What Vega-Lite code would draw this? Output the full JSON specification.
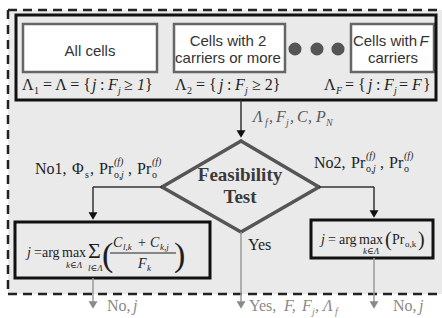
{
  "$schema": "https://vega.github.io/schema/vega-lite/v6.json",
  "width": 442,
  "height": 318,
  "padding": 0,
  "autosize": {"type": "none"},
  "background": "white",
  "config": {"view": {"stroke": null}},
  "datasets": {
    "panels": [
      {"kind": "bg", "x": 8, "x2": 442, "y": 10, "y2": 294},
      {"kind": "frame", "x": 16, "x2": 436, "y": 15, "y2": 100},
      {"kind": "cell", "x": 23, "x2": 157, "y": 24, "y2": 72},
      {"kind": "cell", "x": 174, "x2": 285, "y": 24, "y2": 72},
      {"kind": "cell", "x": 351, "x2": 434, "y": 24, "y2": 72},
      {"kind": "frame", "x": 15, "x2": 210, "y": 222, "y2": 278},
      {"kind": "frame", "x": 311, "x2": 433, "y": 220, "y2": 258}
    ],
    "lines": [
      {"kind": "border", "x": 8, "y": 10, "x2": 442, "y2": 10},
      {"kind": "border", "x": 8, "y": 10, "x2": 8, "y2": 294},
      {"kind": "border", "x": 8, "y": 294, "x2": 442, "y2": 294},
      {"kind": "diamond", "x": 162, "y": 187, "x2": 241, "y2": 141},
      {"kind": "diamond", "x": 241, "y": 141, "x2": 319, "y2": 187},
      {"kind": "diamond", "x": 319, "y": 187, "x2": 241, "y2": 232},
      {"kind": "diamond", "x": 241, "y": 232, "x2": 162, "y2": 187},
      {"kind": "flow", "x": 241, "y": 100, "x2": 241, "y2": 132},
      {"kind": "flow", "x": 162, "y": 187, "x2": 93, "y2": 187},
      {"kind": "flow", "x": 93, "y": 187, "x2": 93, "y2": 214},
      {"kind": "flow", "x": 319, "y": 187, "x2": 374, "y2": 187},
      {"kind": "flow", "x": 374, "y": 187, "x2": 374, "y2": 212},
      {"kind": "out", "x": 93, "y": 278, "x2": 93, "y2": 302},
      {"kind": "out", "x": 241, "y": 232, "x2": 241, "y2": 302},
      {"kind": "out", "x": 374, "y": 258, "x2": 374, "y2": 302},
      {"kind": "frac", "x": 110, "y": 253, "x2": 176, "y2": 253}
    ],
    "heads": [
      {"kind": "flow", "x": 241, "y": 134},
      {"kind": "flow", "x": 93, "y": 216},
      {"kind": "flow", "x": 374, "y": 214},
      {"kind": "out", "x": 93, "y": 305},
      {"kind": "out", "x": 241, "y": 305},
      {"kind": "out", "x": 374, "y": 305}
    ],
    "dots": [
      {"x": 295, "y": 49},
      {"x": 317, "y": 49},
      {"x": 338, "y": 49}
    ],
    "labels": [
      {"t": "All cells", "x": 90, "y": 56, "face": "cell", "role": "cell", "grp": "main"},
      {"t": "Cells with 2", "x": 228, "y": 46, "face": "cell", "role": "cell", "grp": "main"},
      {"t": "carriers or more", "x": 228, "y": 63, "face": "cell", "role": "cell", "grp": "main"},
      {"t": "Cells with", "x": 385, "y": 46, "face": "cell", "role": "cell", "grp": "main"},
      {"t": "F", "x": 424, "y": 46, "face": "cellvar", "role": "cell", "grp": "main"},
      {"t": "carriers", "x": 393, "y": 63, "face": "cell", "role": "cell", "grp": "main"},

      {"t": "Λ", "x": 22, "y": 90, "face": "op", "role": "main", "grp": "main"},
      {"t": "1", "x": 34, "y": 94, "face": "op", "role": "idx", "grp": "main"},
      {"t": "= Λ = {", "x": 43, "y": 90, "face": "op", "role": "main", "grp": "main"},
      {"t": "j", "x": 92, "y": 90, "face": "var", "role": "main", "grp": "main"},
      {"t": ":", "x": 100, "y": 90, "face": "op", "role": "main", "grp": "main"},
      {"t": "F", "x": 108, "y": 90, "face": "var", "role": "main", "grp": "main"},
      {"t": "j", "x": 118, "y": 94, "face": "var", "role": "idx", "grp": "main"},
      {"t": "≥", "x": 124, "y": 90, "face": "op", "role": "main", "grp": "main"},
      {"t": "1", "x": 137, "y": 90, "face": "var", "role": "main", "grp": "main"},
      {"t": "}", "x": 145, "y": 90, "face": "op", "role": "main", "grp": "main"},

      {"t": "Λ", "x": 175, "y": 90, "face": "op", "role": "main", "grp": "main"},
      {"t": "2", "x": 187, "y": 94, "face": "op", "role": "idx", "grp": "main"},
      {"t": "= {", "x": 196, "y": 90, "face": "op", "role": "main", "grp": "main"},
      {"t": "j", "x": 219, "y": 90, "face": "var", "role": "main", "grp": "main"},
      {"t": ":", "x": 227, "y": 90, "face": "op", "role": "main", "grp": "main"},
      {"t": "F", "x": 235, "y": 90, "face": "var", "role": "main", "grp": "main"},
      {"t": "j", "x": 245, "y": 94, "face": "var", "role": "idx", "grp": "main"},
      {"t": "≥ 2}", "x": 252, "y": 90, "face": "op", "role": "main", "grp": "main"},

      {"t": "Λ", "x": 324, "y": 90, "face": "op", "role": "main", "grp": "main"},
      {"t": "F", "x": 336, "y": 94, "face": "var", "role": "idx", "grp": "main"},
      {"t": "= {", "x": 345, "y": 90, "face": "op", "role": "main", "grp": "main"},
      {"t": "j", "x": 368, "y": 90, "face": "var", "role": "main", "grp": "main"},
      {"t": ":", "x": 376, "y": 90, "face": "op", "role": "main", "grp": "main"},
      {"t": "F", "x": 384, "y": 90, "face": "var", "role": "main", "grp": "main"},
      {"t": "j", "x": 394, "y": 94, "face": "var", "role": "idx", "grp": "main"},
      {"t": "=", "x": 399, "y": 90, "face": "op", "role": "main", "grp": "main"},
      {"t": "F", "x": 412, "y": 90, "face": "var", "role": "main", "grp": "main"},
      {"t": "}", "x": 423, "y": 90, "face": "op", "role": "main", "grp": "main"},

      {"t": "Λ", "x": 253, "y": 122, "face": "var", "role": "main", "grp": "flow"},
      {"t": "f", "x": 265, "y": 126, "face": "var", "role": "idx", "grp": "flow"},
      {"t": ",", "x": 269, "y": 122, "face": "var", "role": "main", "grp": "flow"},
      {"t": "F", "x": 276, "y": 122, "face": "var", "role": "main", "grp": "flow"},
      {"t": "j", "x": 286, "y": 126, "face": "var", "role": "idx", "grp": "flow"},
      {"t": ",", "x": 290, "y": 122, "face": "var", "role": "main", "grp": "flow"},
      {"t": "C", "x": 297, "y": 122, "face": "var", "role": "main", "grp": "flow"},
      {"t": ",", "x": 308, "y": 122, "face": "var", "role": "main", "grp": "flow"},
      {"t": "P", "x": 316, "y": 122, "face": "var", "role": "main", "grp": "flow"},
      {"t": "N", "x": 326, "y": 126, "face": "var", "role": "idx", "grp": "flow"},

      {"t": "No1,", "x": 35, "y": 174, "face": "op", "role": "main", "grp": "main"},
      {"t": "Φ", "x": 72, "y": 174, "face": "op", "role": "main", "grp": "main"},
      {"t": "s", "x": 85, "y": 178, "face": "op", "role": "idx", "grp": "main"},
      {"t": ",", "x": 90, "y": 174, "face": "op", "role": "main", "grp": "main"},
      {"t": "Pr", "x": 99, "y": 174, "face": "op", "role": "main", "grp": "main"},
      {"t": "(f)", "x": 114, "y": 165, "face": "var", "role": "idx", "grp": "main"},
      {"t": "o,", "x": 114, "y": 178, "face": "op", "role": "idx", "grp": "main"},
      {"t": "j", "x": 121, "y": 178, "face": "var", "role": "idx", "grp": "main"},
      {"t": ",", "x": 128, "y": 174, "face": "op", "role": "main", "grp": "main"},
      {"t": "Pr", "x": 137, "y": 174, "face": "op", "role": "main", "grp": "main"},
      {"t": "(f)", "x": 152, "y": 165, "face": "var", "role": "idx", "grp": "main"},
      {"t": "o", "x": 152, "y": 178, "face": "op", "role": "idx", "grp": "main"},

      {"t": "No2,", "x": 314, "y": 168, "face": "op", "role": "main", "grp": "main"},
      {"t": "Pr", "x": 351, "y": 168, "face": "op", "role": "main", "grp": "main"},
      {"t": "(f)", "x": 366, "y": 159, "face": "var", "role": "idx", "grp": "main"},
      {"t": "o,", "x": 366, "y": 172, "face": "op", "role": "idx", "grp": "main"},
      {"t": "j", "x": 373, "y": 172, "face": "var", "role": "idx", "grp": "main"},
      {"t": ",", "x": 380, "y": 168, "face": "op", "role": "main", "grp": "main"},
      {"t": "Pr", "x": 389, "y": 168, "face": "op", "role": "main", "grp": "main"},
      {"t": "(f)", "x": 404, "y": 159, "face": "var", "role": "idx", "grp": "main"},
      {"t": "o", "x": 404, "y": 172, "face": "op", "role": "idx", "grp": "main"},

      {"t": "Feasibility", "x": 240, "y": 181, "face": "head", "role": "head", "grp": "main"},
      {"t": "Test", "x": 240, "y": 203, "face": "head", "role": "head", "grp": "main"},
      {"t": "Yes", "x": 248, "y": 250, "face": "op", "role": "main", "grp": "main"},

      {"t": "j", "x": 27, "y": 257, "face": "var", "role": "fx", "grp": "main"},
      {"t": "=", "x": 34, "y": 257, "face": "op", "role": "fx", "grp": "main"},
      {"t": "arg", "x": 42, "y": 257, "face": "op", "role": "fx", "grp": "main"},
      {"t": "max", "x": 62, "y": 257, "face": "op", "role": "fx", "grp": "main"},
      {"t": "k∈Λ", "x": 66, "y": 268, "face": "var", "role": "fxidx", "grp": "main"},
      {"t": "Σ", "x": 88, "y": 258, "face": "op", "role": "sum", "grp": "main"},
      {"t": "l∈Λ", "x": 88, "y": 271, "face": "var", "role": "fxidx", "grp": "main"},
      {"t": "(", "x": 102, "y": 266, "face": "op", "role": "paren", "grp": "main"},
      {"t": "C", "x": 113, "y": 247, "face": "var", "role": "fx", "grp": "main"},
      {"t": "l,k", "x": 123, "y": 250, "face": "var", "role": "fxidx", "grp": "main"},
      {"t": "+", "x": 138, "y": 247, "face": "op", "role": "fx", "grp": "main"},
      {"t": "C", "x": 150, "y": 247, "face": "var", "role": "fx", "grp": "main"},
      {"t": "k,j", "x": 160, "y": 250, "face": "var", "role": "fxidx", "grp": "main"},
      {"t": "F", "x": 138, "y": 268, "face": "var", "role": "fx", "grp": "main"},
      {"t": "k", "x": 147, "y": 271, "face": "var", "role": "fxidx", "grp": "main"},
      {"t": ")", "x": 174, "y": 266, "face": "op", "role": "paren", "grp": "main"},

      {"t": "j", "x": 321, "y": 244, "face": "var", "role": "fx", "grp": "main"},
      {"t": "=", "x": 328, "y": 244, "face": "op", "role": "fx", "grp": "main"},
      {"t": "arg", "x": 339, "y": 244, "face": "op", "role": "fx", "grp": "main"},
      {"t": "max", "x": 359, "y": 244, "face": "op", "role": "fx", "grp": "main"},
      {"t": "k∈Λ", "x": 363, "y": 254, "face": "var", "role": "fxidx", "grp": "main"},
      {"t": "(", "x": 385, "y": 246, "face": "op", "role": "mparen", "grp": "main"},
      {"t": "Pr", "x": 392, "y": 244, "face": "op", "role": "fx", "grp": "main"},
      {"t": "o,k", "x": 405, "y": 247, "face": "op", "role": "fxidx", "grp": "main"},
      {"t": ")", "x": 418, "y": 246, "face": "op", "role": "mparen", "grp": "main"},

      {"t": "No,", "x": 107, "y": 311, "face": "op", "role": "main", "grp": "out"},
      {"t": "j", "x": 133, "y": 311, "face": "var", "role": "main", "grp": "out"},
      {"t": "Yes,", "x": 249, "y": 311, "face": "op", "role": "main", "grp": "out"},
      {"t": "F,", "x": 284, "y": 311, "face": "var", "role": "main", "grp": "out"},
      {"t": "F", "x": 302, "y": 311, "face": "var", "role": "main", "grp": "out"},
      {"t": "j", "x": 312, "y": 315, "face": "var", "role": "idx", "grp": "out"},
      {"t": ",", "x": 315, "y": 311, "face": "var", "role": "main", "grp": "out"},
      {"t": "Λ", "x": 323, "y": 311, "face": "var", "role": "main", "grp": "out"},
      {"t": "f", "x": 335, "y": 315, "face": "var", "role": "idx", "grp": "out"},
      {"t": "No,", "x": 393, "y": 311, "face": "op", "role": "main", "grp": "out"},
      {"t": "j", "x": 419, "y": 311, "face": "var", "role": "main", "grp": "out"}
    ]
  },
  "encoding": {
    "x": {"field": "x", "type": "quantitative", "scale": {"domain": [0, 442], "nice": false, "zero": false}, "axis": null},
    "y": {"field": "y", "type": "quantitative", "scale": {"domain": [0, 318], "nice": false, "zero": false, "reverse": true}, "axis": null}
  },
  "layer": [
    {"data": {"name": "panels"}, "transform": [{"filter": "datum.kind === 'bg'"}],
     "mark": {"type": "rect", "fill": "#eaeaea"},
     "encoding": {"x2": {"field": "x2"}, "y2": {"field": "y2"}}},
    {"data": {"name": "panels"}, "transform": [{"filter": "datum.kind === 'cell'"}],
     "mark": {"type": "rect", "fill": "white", "stroke": "#666666", "strokeWidth": 2.5},
     "encoding": {"x2": {"field": "x2"}, "y2": {"field": "y2"}}},
    {"data": {"name": "panels"}, "transform": [{"filter": "datum.kind === 'frame'"}],
     "mark": {"type": "rect", "filled": false, "stroke": "#111111", "strokeWidth": 3},
     "encoding": {"x2": {"field": "x2"}, "y2": {"field": "y2"}}},
    {"data": {"name": "lines"}, "transform": [{"filter": "datum.kind === 'border'"}],
     "mark": {"type": "rule", "stroke": "#222222", "strokeWidth": 2.5, "strokeDash": [9, 6]},
     "encoding": {"x2": {"field": "x2"}, "y2": {"field": "y2"}}},
    {"data": {"name": "lines"}, "transform": [{"filter": "datum.kind === 'diamond'"}],
     "mark": {"type": "rule", "stroke": "#555555", "strokeWidth": 3.5, "strokeCap": "round"},
     "encoding": {"x2": {"field": "x2"}, "y2": {"field": "y2"}}},
    {"data": {"name": "lines"}, "transform": [{"filter": "datum.kind === 'flow'"}],
     "mark": {"type": "rule", "stroke": "#333333", "strokeWidth": 1.5},
     "encoding": {"x2": {"field": "x2"}, "y2": {"field": "y2"}}},
    {"data": {"name": "lines"}, "transform": [{"filter": "datum.kind === 'out'"}],
     "mark": {"type": "rule", "stroke": "#9a9a9a", "strokeWidth": 1.5},
     "encoding": {"x2": {"field": "x2"}, "y2": {"field": "y2"}}},
    {"data": {"name": "lines"}, "transform": [{"filter": "datum.kind === 'frac'"}],
     "mark": {"type": "rule", "stroke": "#222222", "strokeWidth": 1},
     "encoding": {"x2": {"field": "x2"}, "y2": {"field": "y2"}}},
    {"data": {"name": "dots"},
     "mark": {"type": "point", "shape": "circle", "filled": true, "size": 170, "color": "#555555", "opacity": 1}},
    {"data": {"name": "heads"}, "transform": [{"filter": "datum.kind === 'flow'"}],
     "mark": {"type": "point", "shape": "triangle-down", "filled": true, "size": 80, "color": "#111111", "opacity": 1}},
    {"data": {"name": "heads"}, "transform": [{"filter": "datum.kind === 'out'"}],
     "mark": {"type": "point", "shape": "triangle-down", "filled": true, "size": 80, "color": "#8a8a8a", "opacity": 1}},
    {"data": {"name": "labels"}, "transform": [{"filter": "datum.face === 'op'"}],
     "mark": {"type": "text", "font": "Liberation Serif, Times New Roman, DejaVu Serif, serif", "align": "left", "baseline": "alphabetic"},
     "encoding": {
       "text": {"field": "t"},
       "size": {"field": "role", "type": "nominal", "scale": {"type": "ordinal", "domain": ["main", "idx", "fx", "fxidx", "sum", "paren", "mparen", "head", "cell"], "range": [16, 10, 14, 9, 22, 34, 20, 19, 15]}, "legend": null},
       "color": {"field": "grp", "type": "nominal", "scale": {"domain": ["main", "flow", "out"], "range": ["#1e1e1e", "#5a5a5a", "#8a8a8a"]}, "legend": null}
     }},
    {"data": {"name": "labels"}, "transform": [{"filter": "datum.face === 'var'"}],
     "mark": {"type": "text", "font": "Liberation Serif, Times New Roman, DejaVu Serif, serif", "fontStyle": "italic", "align": "left", "baseline": "alphabetic"},
     "encoding": {
       "text": {"field": "t"},
       "size": {"field": "role", "type": "nominal", "scale": {"type": "ordinal", "domain": ["main", "idx", "fx", "fxidx", "sum", "paren", "mparen", "head", "cell"], "range": [16, 10, 14, 9, 22, 34, 20, 19, 15]}, "legend": null},
       "color": {"field": "grp", "type": "nominal", "scale": {"domain": ["main", "flow", "out"], "range": ["#1e1e1e", "#5a5a5a", "#8a8a8a"]}, "legend": null}
     }},
    {"data": {"name": "labels"}, "transform": [{"filter": "datum.face === 'head'"}],
     "mark": {"type": "text", "font": "Liberation Serif, Times New Roman, DejaVu Serif, serif", "fontWeight": "bold", "fontSize": 19, "align": "center", "baseline": "alphabetic", "color": "#3a3a3a"},
     "encoding": {"text": {"field": "t"}}},
    {"data": {"name": "labels"}, "transform": [{"filter": "datum.face === 'cell'"}],
     "mark": {"type": "text", "font": "Liberation Sans, Arial, Helvetica, sans-serif", "fontSize": 15, "align": "center", "baseline": "alphabetic", "color": "#333333"},
     "encoding": {"text": {"field": "t"}}},
    {"data": {"name": "labels"}, "transform": [{"filter": "datum.face === 'cellvar'"}],
     "mark": {"type": "text", "font": "Liberation Sans, Arial, Helvetica, sans-serif", "fontStyle": "italic", "fontSize": 15, "align": "center", "baseline": "alphabetic", "color": "#333333"},
     "encoding": {"text": {"field": "t"}}}
  ]
}
